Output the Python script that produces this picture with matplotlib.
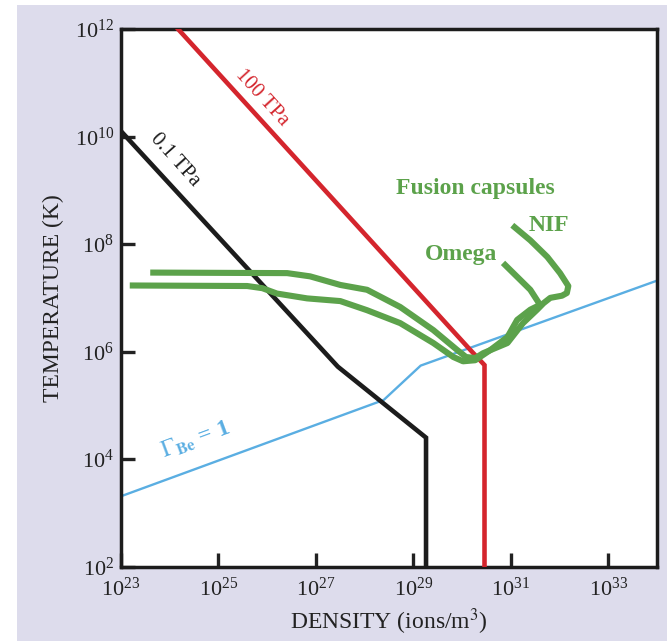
import numpy as np
import matplotlib
matplotlib.use("Agg")
import matplotlib.pyplot as plt
from matplotlib.patches import Rectangle
from matplotlib.ticker import FixedLocator, LogFormatterMathtext

plt.rcParams['font.family'] = ['Liberation Serif', 'DejaVu Serif']
plt.rcParams['mathtext.fontset'] = 'stix'

# pressure isobars and coupling line, log10 of density (ions/m^3) and temperature (K)
iso_100tpa_logn = [24.17, 30.17, 30.46, 30.46]
iso_100tpa_logT = [12.0, 6.03, 5.75, 2.0]

iso_01tpa_logn = [23.0, 27.45, 29.26, 29.26]
iso_01tpa_logT = [10.1, 5.72, 4.4, 2.0]

gamma_logn = [23.0, 28.39, 29.15, 34.0]
gamma_logT = [3.31, 5.10, 5.74, 7.32]

# capsule implosion paths
nif_logn = [23.60, 26.41, 26.88, 27.50, 28.05, 28.73, 29.41, 29.90, 30.08, 30.27, 30.43,
            30.93, 31.25, 31.54, 31.67, 31.81, 32.05, 32.15, 32.18, 32.01, 31.75, 31.40, 31.03]
nif_logT = [7.47, 7.46, 7.40, 7.24, 7.15, 6.83, 6.40, 6.03, 5.90, 5.88, 5.97,
            6.16, 6.53, 6.78, 6.90, 7.00, 7.04, 7.09, 7.22, 7.46, 7.76, 8.07, 8.35]

omega_logn = [23.18, 25.59, 25.90, 26.20, 26.82, 27.50, 28.05, 28.73, 29.41, 29.82, 30.02,
              30.27, 30.58, 30.93, 31.13, 31.40, 31.60, 31.40, 30.84]
omega_logT = [7.23, 7.22, 7.18, 7.08, 6.99, 6.94, 6.77, 6.53, 6.16, 5.90, 5.82,
              5.84, 6.03, 6.27, 6.59, 6.78, 6.87, 7.15, 7.65]

x_ticks = [23, 25, 27, 29, 31, 33]
y_ticks = [2, 4, 6, 8, 10, 12]

RED = '#d4252d'
BLACK = '#1c1c1c'
GREEN = '#5ca24b'
BLUE = '#5aaee2'

fig = plt.figure(figsize=(6.67, 6.41), dpi=100)
fig.patch.set_facecolor('white')
fig.patches.append(Rectangle((17 / 667, 0), 1, 1 - 5 / 641, transform=fig.transFigure,
                             facecolor='#dddcec', edgecolor='none', zorder=-5))
ax = fig.add_axes([121 / 667, 1 - 566.7 / 641, 536 / 667, 537.7 / 641])
ax.set_facecolor('white')

def p(v):
    return 10.0 ** np.array(v)

ax.plot(p(gamma_logn), p(gamma_logT), color=BLUE, lw=1.7, zorder=2)
ax.plot(p(iso_01tpa_logn), p(iso_01tpa_logT), color=BLACK, lw=3.3, zorder=3,
        solid_joinstyle='miter')
ax.plot(p(iso_100tpa_logn), p(iso_100tpa_logT), color=RED, lw=3.3, zorder=3,
        solid_joinstyle='miter')
ax.plot(p(nif_logn), p(nif_logT), color=GREEN, lw=4.4, zorder=4,
        solid_capstyle='butt', solid_joinstyle='round')
ax.plot(p(omega_logn), p(omega_logT), color=GREEN, lw=4.4, zorder=4,
        solid_capstyle='butt', solid_joinstyle='round')

ax.set_xscale('log')
ax.set_yscale('log')
ax.set_xlim(1e23, 1e34)
ax.set_ylim(1e2, 1e12)
ax.xaxis.set_major_locator(FixedLocator(p(x_ticks)))
ax.yaxis.set_major_locator(FixedLocator(p(y_ticks)))
ax.xaxis.set_minor_locator(FixedLocator([]))
ax.yaxis.set_minor_locator(FixedLocator([]))
ax.xaxis.set_major_formatter(LogFormatterMathtext())
ax.yaxis.set_major_formatter(LogFormatterMathtext())
ax.tick_params(direction='in', length=10, width=2.4, labelsize=16, colors='#222222')
ax.tick_params(axis='x', pad=8)
ax.tick_params(axis='y', pad=5)
for s in ax.spines.values():
    s.set_linewidth(2.5)
    s.set_color('#1c1c1c')

ax.set_xlabel('DENSITY (ions/m$^3$)', fontsize=17, color='#222222', labelpad=4)
ax.set_ylabel('TEMPERATURE (K)', fontsize=17, color='#222222', labelpad=8)

ax.text(p(25.90), p(10.72), '100 TPa', color=RED, fontsize=15, rotation=-47.6,
        ha='center', va='center')
ax.text(p(24.11), p(9.56), '0.1 TPa', color=BLACK, fontsize=15, rotation=-48,
        ha='center', va='center')
ax.text(p(30.27), p(9.04), 'Fusion capsules', color=GREEN, fontsize=17,
        fontweight='bold', ha='center', va='center')
ax.text(p(31.79), p(8.35), 'NIF', color=GREEN, fontsize=17, fontweight='bold',
        ha='center', va='center')
ax.text(p(29.98), p(7.81), 'Omega', color=GREEN, fontsize=17, fontweight='bold',
        ha='center', va='center')
ax.text(p(24.52), p(4.36), r'$\mathit{\Gamma}_{\mathbf{Be}}$ = 1', color=BLUE, fontsize=17,
        rotation=20.3, ha='center', va='center', fontweight='bold')

fig.savefig('out.png', dpi=100)
